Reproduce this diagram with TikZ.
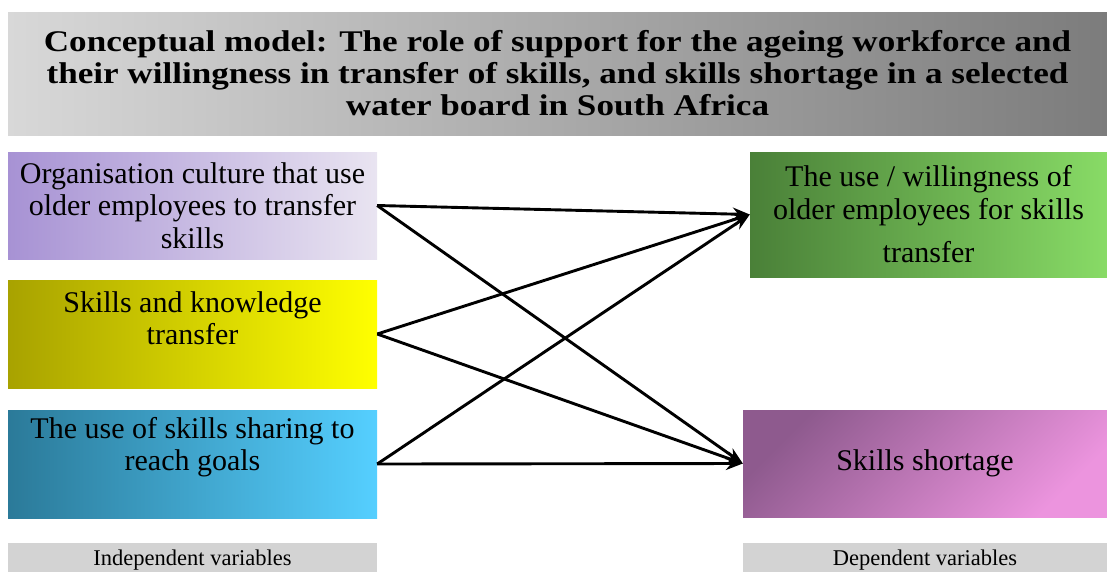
\documentclass[tikz,border=0pt]{standalone}
\usepackage{fontspec}
\setmainfont{Liberation Serif}
\newfontfamily\titlefont{Liberation Serif}[FakeStretch=1.17]
\usetikzlibrary{arrows.meta,positioning}
\definecolor{cmTitleL}{HTML}{D8D8D8}
\definecolor{cmTitleR}{HTML}{7C7C7C}
\definecolor{cmPurpleL}{HTML}{A792D4}
\definecolor{cmPurpleR}{HTML}{E9E4F1}
\definecolor{cmOliveL}{HTML}{A8A200}
\definecolor{cmOliveR}{HTML}{FFFF00}
\definecolor{cmBlueL}{HTML}{2B7A99}
\definecolor{cmBlueR}{HTML}{55CFFF}
\definecolor{cmGreenL}{HTML}{4A8038}
\definecolor{cmGreenR}{HTML}{88DB66}
\definecolor{cmPinkD}{HTML}{8E5A8E}
\definecolor{cmPinkL}{HTML}{EC94DE}
\definecolor{cmGrey}{HTML}{D3D3D3}

\begin{document}
\begin{tikzpicture}[x=1pt,y=-1pt,
  varbox/.style={inner sep=0pt,align=center,
    font=\rmfamily\fontsize{30}{32.5}\selectfont},
  legend/.style={fill=cmGrey,inner sep=0pt,minimum height=30pt,
    text depth=2pt,font=\rmfamily\fontsize{22.5}{24}\selectfont},
  link/.style={line width=2.9pt,-{Stealth[length=17pt,width=13pt]}}]
  \useasboundingbox (0,0) rectangle (1107,571);

  % heading
  \node[inner sep=0pt,minimum width=1099pt,minimum height=123pt,
    left color=cmTitleL,right color=cmTitleR,align=center,
    font=\titlefont\fontsize{30}{32}\bfseries\selectfont]
    (title) at (557.5,73.5) {%
    Conceptual model: The role of support for the ageing workforce and\\
    their willingness in transfer of skills, and skills shortage in a selected\\
    water board in South Africa};

  % independent variables
  \node[varbox,minimum width=369pt,minimum height=107pt,
    left color=cmPurpleL,right color=cmPurpleR]
    (culture) at (192.5,205.5) {Organisation culture that use\\
    older employees to transfer\\skills};
  \node[varbox,minimum width=369pt,minimum height=108pt,
    left color=cmOliveL,right color=cmOliveR,
    label={[varbox,yshift=16pt]center:{Skills and knowledge\\transfer}}]
    (knowledge) at (192.5,334) {};
  \node[varbox,minimum width=369pt,minimum height=108pt,
    left color=cmBlueL,right color=cmBlueR,
    label={[varbox,yshift=17pt]center:{The use of skills sharing to\\reach goals}}]
    (sharing) at (192.5,464) {};

  % dependent variables
  \node[varbox,minimum width=357pt,minimum height=125pt,
    left color=cmGreenL,right color=cmGreenR]
    (willing) at (928.5,214.5) {The use / willingness of\\
    older employees for skills\\[11pt]transfer};
  \node[varbox,minimum width=364pt,minimum height=107pt,
    top color=cmPinkD,bottom color=cmPinkL,shading angle=45]
    (shortage) at (925,463.5) {Skills shortage};

  \node[legend,minimum width=369pt,below=25pt of sharing] (indep)
    {Independent variables};
  \node[legend,minimum width=364pt,below=26pt of shortage] (dep)
    {Dependent variables};

  % links
  \foreach \src in {culture,knowledge,sharing}{
    \draw[link] (\src.east) -- (willing.west);
    \draw[link] (\src.east) -- (shortage.west);
  }
\end{tikzpicture}
\end{document}
